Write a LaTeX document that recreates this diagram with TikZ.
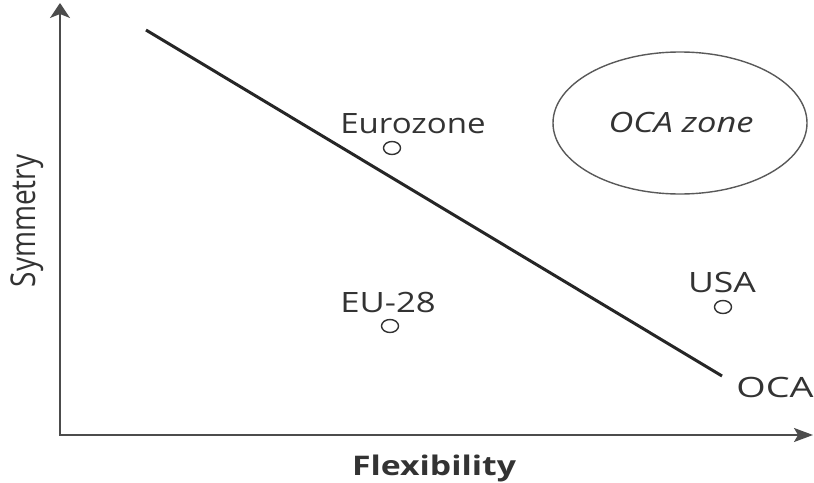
\documentclass[tikz,border=0pt]{standalone}
\usepackage{fontspec}
\setmainfont{Open Sans}
\usetikzlibrary{arrows.meta,shapes.geometric}

\newcommand{\hstretch}[2]{\scalebox{#1}[1]{#2}}

\tikzset{
  axis/.style={draw=black!70, line width=1.8pt},
  trend/.style={draw=black!85, line width=3pt},
  country/.style={ellipse, draw=black!80, line width=1.4pt, inner sep=0pt, minimum width=17pt, minimum height=13pt},
  lbl/.style={anchor=base, text=black!80, font=\fontsize{28}{30}\selectfont},
}

\begin{document}
\begin{tikzpicture}[x=1pt,y=-1pt]
  \useasboundingbox (0,0) rectangle (814,482);
  \coordinate (o) at (60,435);
  \coordinate (ytip) at (60,3);
  \coordinate (xtip) at (813,435);
  \draw[axis, {Stealth[length=15pt,width=20pt,inset=4pt]}-{Stealth[length=19pt,width=14pt,inset=4pt]}] (ytip) -- (o) -- (xtip);

  \coordinate (oca start) at (146,30);
  \coordinate (oca end) at (722,376);
  \draw[trend] (oca start) -- (oca end);

  \node[ellipse, draw=black!65, line width=1.4pt, minimum width=254pt, minimum height=142pt] (zone) at (680,123) {};
  \node[lbl, font=\fontsize{28}{30}\selectfont\itshape] (zone label) at (681,132) {\hstretch{1.23}{OCA zone}};

  \node[country] (euro) at (392,148) {};
  \node[lbl] (euro label) at (413,133) {\hstretch{1.18}{Eurozone}};
  \node[country] (eu) at (390,326) {};
  \node[lbl] (eu label) at (388,312) {\hstretch{1.24}{EU-28}};
  \node[country] (usa) at (723,307) {};
  \node[lbl] (usa label) at (722,292) {\hstretch{1.27}{USA}};
  \node[lbl] (oca label) at (775,397) {\hstretch{1.35}{OCA}};

  \node[lbl, font=\fontsize{27}{29}\selectfont\bfseries] (xlabel) at (434,475) {\hstretch{1.25}{Flexibility}};
  \node[lbl, rotate=90] (ylabel) at (35,221) {\scalebox{1}[1.22]{Symmetry}};
\end{tikzpicture}
\end{document}
